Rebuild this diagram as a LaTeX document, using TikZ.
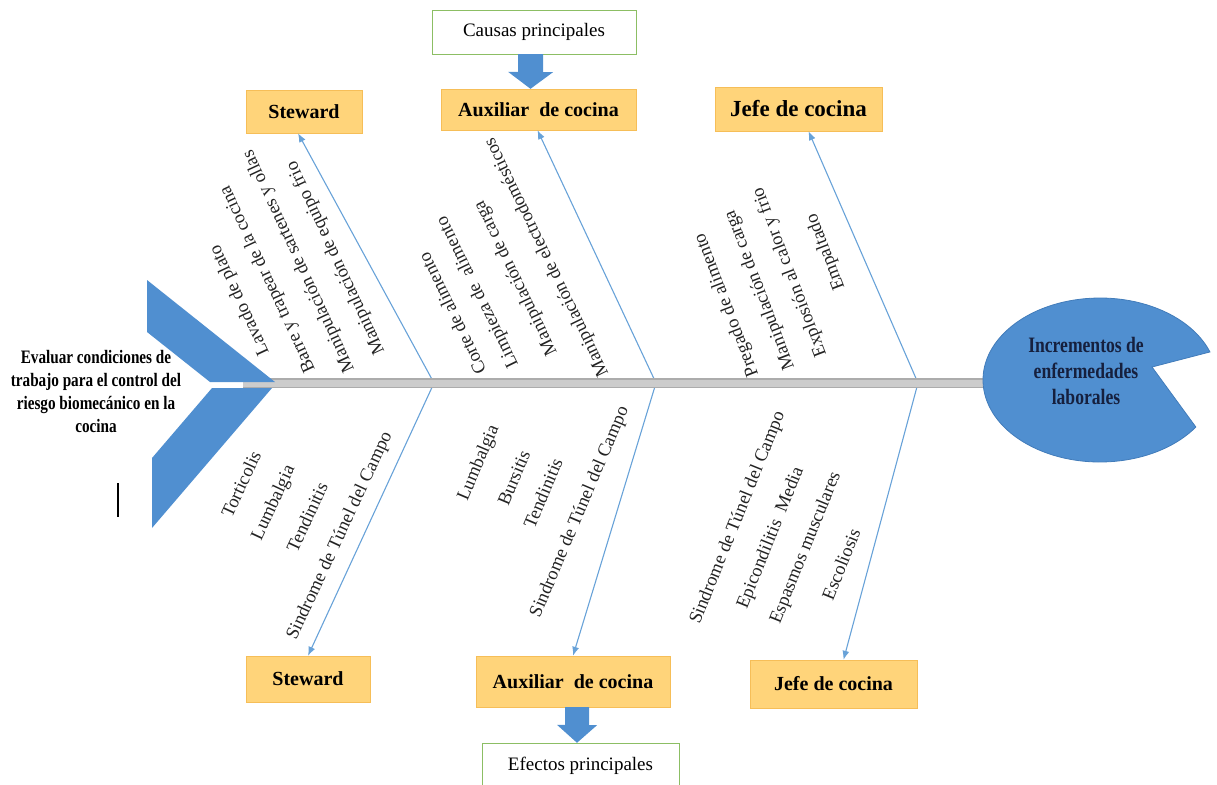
\documentclass[tikz,border=0pt]{standalone}
\usepackage{fontspec}
\setmainfont{Liberation Serif}
\newfontfamily\narrowfont[FakeStretch=0.8]{Liberation Serif}
\usetikzlibrary{arrows.meta,calc}

\definecolor{boxfill}{RGB}{255,212,122}
\definecolor{boxline}{RGB}{246,190,88}
\definecolor{fishblue}{RGB}{80,143,208}
\definecolor{fishedge}{RGB}{66,124,186}
\definecolor{bonecol}{RGB}{104,162,216}
\definecolor{spinecol}{RGB}{204,204,204}
\definecolor{spineedge}{RGB}{172,172,172}
\definecolor{greenline}{RGB}{140,190,100}
\definecolor{headtext}{RGB}{22,32,62}
\definecolor{labtext}{RGB}{35,35,35}

\tikzset{
  rolebox/.style={draw=boxline, fill=boxfill, inner sep=0pt,
    font=\fontsize{20}{24}\selectfont\bfseries},
  notebox/.style={draw=greenline, fill=white, inner sep=0pt,
    font=\fontsize{19}{23}\selectfont},
  cause/.style={inner sep=0pt, text=labtext,
    font=\fontsize{18.5}{22}\selectfont},
  bone/.style={draw=bonecol, line width=1.1pt, -{Latex[length=9pt,width=7pt]}}
}

\begin{document}
\begin{tikzpicture}[x=1pt,y=-1pt]
\useasboundingbox (0,0) rectangle (1217,784);

	%Spine points
	\coordinate (tail) at (243,383);
	\coordinate (j_1) at (434,383);
	\coordinate (j_2) at (656,383);
	\coordinate (j_3) at (918,383);
	\coordinate (neck) at (988,383);
	\coordinate (hc) at (1100,380);

\begin{scope}[every node/.style={rolebox}]
	%Causes
	\node[minimum width=116pt, minimum height=43pt] (S_top) at (304,111.5) {Steward};
	\node[minimum width=195pt, minimum height=41pt] (A_top) at (538.5,109.5) {Auxiliar\ \ de cocina};
	\node[minimum width=167pt, minimum height=44pt, font=\fontsize{23}{27}\selectfont\bfseries] (J_top) at (798.5,109) {Jefe de cocina};

	%Effects
	\node[minimum width=124pt, minimum height=46pt] (S_bot) at (308,679) {Steward};
	\node[minimum width=194pt, minimum height=51pt] (A_bot) at (573,681.5) {Auxiliar\ \ de cocina};
	\node[minimum width=167pt, minimum height=48pt] (J_bot) at (833.5,684) {Jefe de cocina};
\end{scope}

\begin{scope}[every node/.style={notebox}]
	\node[minimum width=204pt, minimum height=44pt] (causas) at (534,32) {Causas principales};
	\node[minimum width=197pt, minimum height=46pt] (efectos) at (580.5,766) {Efectos principales};
\end{scope}

	%Bones
	\path (j_1) edge [bone] node {} ([xshift=-6pt]S_top.south);
	\path (j_2) edge [bone] node {} ([xshift=-1pt]A_top.south);
	\path (j_3) edge [bone] node {} ([xshift=10pt]J_top.south);
	\path (j_1) edge [bone] node {} (S_bot.north);
	\path (j_2) edge [bone] node {} (A_bot.north);
	\path (j_3) edge [bone] node {} ([xshift=10pt]J_bot.north);

	%Spine
	\draw[spineedge, line width=10pt] (tail) -- (neck);
	\draw[spinecol, line width=7pt] (tail) -- (neck);

	%Tail
	\fill[fishblue] (147,280) -- (275,382) -- (210,382) -- (147,332) -- cycle;
	\fill[fishblue] (212,388) -- (272,388) -- (152,528) -- (152,458) -- cycle;
	\draw[line width=1.3pt] (118,483) -- (118,517);

	%Head
	\filldraw[fill=fishblue, draw=fishedge, line width=0.8pt] (1152,367) -- ($(hc)+(35:117 and 82)$)
		arc[start angle=35, end angle=340, x radius=117, y radius=82] -- cycle;

	%Block arrows
	\fill[fishblue] ([xshift=-16pt]causas.south) -- ++(25,0) -- ++(0,18) -- ++(10,0)
		-- ([xshift=-8pt]A_top.north) -- ++(-22.5,-17) -- ++(10,0) -- cycle;
	\fill[fishblue] ([xshift=-8pt]A_bot.south) -- ++(24,0) -- ++(0,18) -- ++(8,0)
		-- ([xshift=-3.5pt]efectos.north) -- ++(-20,-18) -- ++(8,0) -- cycle;

	\node[align=center, font=\narrowfont\bfseries\fontsize{19}{23}\selectfont] (goal) at (96,391)
		{Evaluar condiciones de\\trabajo para el control del\\riesgo biomecánico en la\\cocina};
	\node[align=center, text=headtext, font=\narrowfont\bfseries\fontsize{22}{26}\selectfont] (effect) at (1086,371)
		{Incrementos de\\enfermedades\\laborales};

\begin{scope}[every node/.style={cause, rotate=115}]
	%Steward causes
	\node (c_1^1) at (240,300) {Lavado de plato};
	\node (c_1^2) at (268,279) {Barre y trapear de la cocina};
	\node (c_1^3) at (299,261) {Manipulación de sartenes y ollas};
	\node (c_1^4) at (336,258) {Manipulación de equipo frio};
\end{scope}

\begin{scope}[every node/.style={cause, rotate=116}]
	%Auxiliar causes
	\node (c_2^1) at (452,314) {Corte de alimento};
	\node (c_2^2) at (478,292) {Limpieza de\ \ alimento};
	\node (c_2^3) at (516,278) {Manipulación de carga};
	\node (c_2^4) at (547,257) {Manipulación de electrodomésticos};
\end{scope}

\begin{scope}[every node/.style={cause, rotate=111}]
	%Jefe causes
	\node (c_3^1) at (727,305) {Pregado de alimento};
	\node (c_3^2) at (760,290) {Manipulación de carga};
	\node (c_3^3) at (790,272) {Explosión al calor y frio};
	\node (c_3^4) at (826,252) {Empaltado};
\end{scope}

\begin{scope}[every node/.style={cause, rotate=65}]
	%Steward effects
	\node (e_1^1) at (241,484) {Torticolis};
	\node (e_1^2) at (274,503) {Lumbalgia};
	\node (e_1^3) at (307,517) {Tendinitis};
	\node (e_1^4) at (340,536) {Sindrome de Túnel del Campo};
\end{scope}

\begin{scope}[every node/.style={cause, rotate=67}]
	%Auxiliar effects
	\node (e_2^1) at (479,463) {Lumbalgia};
	\node (e_2^2) at (514,478) {Bursitis};
	\node (e_2^3) at (543,493) {Tendinitis};
	\node (e_2^4) at (580,512) {Sindrome de Túnel del Campo};
\end{scope}

\begin{scope}[every node/.style={cause, rotate=68}]
	%Jefe effects
	\node (e_3^1) at (738,518) {Sindrome de Túnel del Campo};
	\node (e_3^2) at (771,538) {Epicondilitis\ \ Media};
	\node (e_3^3) at (806,548) {Espasmos musculares};
	\node (e_3^4) at (841,564) {Escoliosis};
\end{scope}
\end{tikzpicture}
\end{document}
